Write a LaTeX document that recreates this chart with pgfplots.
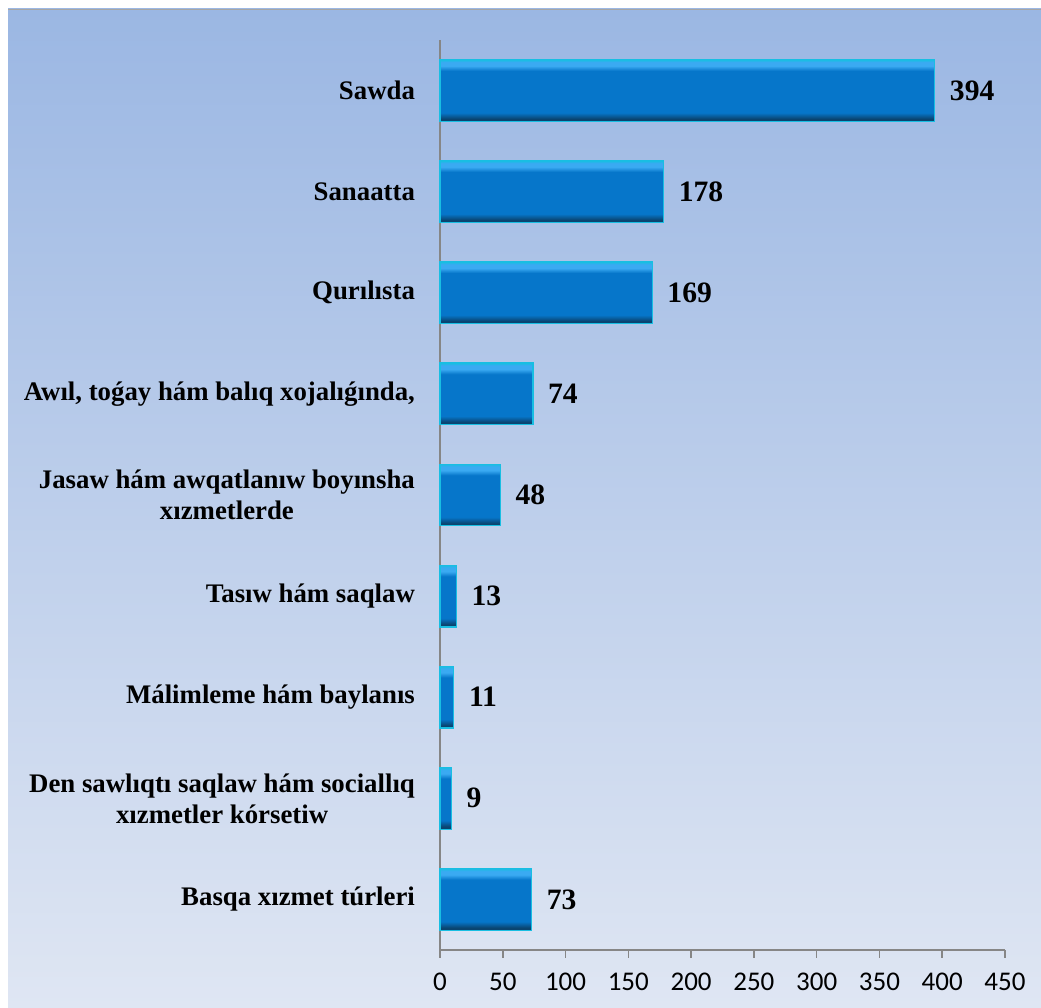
\documentclass[border=0pt]{standalone}
\usepackage{pgfplots}
\pgfplotsset{compat=1.18}
\usepackage{fontspec}
\setmainfont{Liberation Serif}
\newfontfamily\carlito{Carlito}
\definecolor{bgtop}{RGB}{155,183,227}
\definecolor{bgbot}{RGB}{223,230,243}
\definecolor{barmain}{RGB}{6,118,202}
\definecolor{barlight}{RGB}{58,170,242}
\definecolor{bardark}{RGB}{10,68,112}
\definecolor{baredge}{RGB}{24,190,226}
\definecolor{axgray}{RGB}{134,134,134}
\pgfdeclareverticalshading{barbevel}{100bp}{color(0bp)=(bardark); color(25bp)=(bardark); color(27bp)=(bardark); color(32bp)=(barmain); color(66bp)=(barmain); color(70bp)=(barlight); color(73bp)=(barlight); color(75bp)=(baredge); color(100bp)=(baredge)}
\pgfplotsset{bevelbar/.style={draw=baredge, line width=0.6pt, shading=barbevel, shade, bar shift=0pt}}
\begin{document}
\begin{tikzpicture}
\useasboundingbox (0,0) rectangle (520.5pt,504pt);
\shade[top color=bgtop, bottom color=bgbot] (4pt,0) rectangle (520.5pt,499.5pt);
\draw[gray!70, line width=0.4pt] (4pt,499.5pt) -- (520.5pt,499.5pt);
\begin{axis}[
  at={(220pt,29pt)}, anchor=south west,
  scale only axis, width=282.5pt, height=455pt,
  xmin=0, xmax=450, ymin=-0.5, ymax=8.5,
  xbar, bar width=0.61,
  axis x line*=bottom, axis y line*=left,
  axis line style={axgray, line width=0.8pt},
  xtick={0,50,...,450},
  ytick={0,...,8},
  yticklabels={Basqa xızmet túrleri,
    {Den sawlıqtı saqlaw hám sociallıq\\xızmetler kórsetiw},
    Málimleme hám baylanıs,
    Tasıw hám saqlaw,
    {Jasaw hám awqatlanıw boyınsha\\xızmetlerde},
    {Awıl, toǵay hám balıq xojalıǵında,},
    Qurılısta, Sanaatta, Sawda},
  minor ytick={-0.5,0.5,...,8.5},
  tick align=outside,
  major tick length=4pt,
  ytick style={draw=none},
  minor tick style={axgray, line width=0.8pt},
  xtick style={axgray, line width=0.8pt},
  minor tick length=3.5pt,
  /pgf/number format/assume math mode=true,
  yticklabel style={font=\bfseries\fontsize{13.4}{15.5}\selectfont, align=center, xshift=-5pt},
  xticklabel style={font=\carlito\fontsize{13.5}{15}\selectfont, yshift=-4pt},
  nodes near coords,
  every node near coord/.append style={font=\bfseries\fontsize{14.8}{16}\selectfont, black, xshift=4pt},
  clip=false,
]
\addplot[bevelbar] coordinates {(73,0)};
\addplot[bevelbar] coordinates {(9,1)};
\addplot[bevelbar] coordinates {(11,2)};
\addplot[bevelbar] coordinates {(13,3)};
\addplot[bevelbar] coordinates {(48,4)};
\addplot[bevelbar] coordinates {(74,5)};
\addplot[bevelbar] coordinates {(169,6)};
\addplot[bevelbar] coordinates {(178,7)};
\addplot[bevelbar] coordinates {(394,8)};
\end{axis}
\end{tikzpicture}
\end{document}
